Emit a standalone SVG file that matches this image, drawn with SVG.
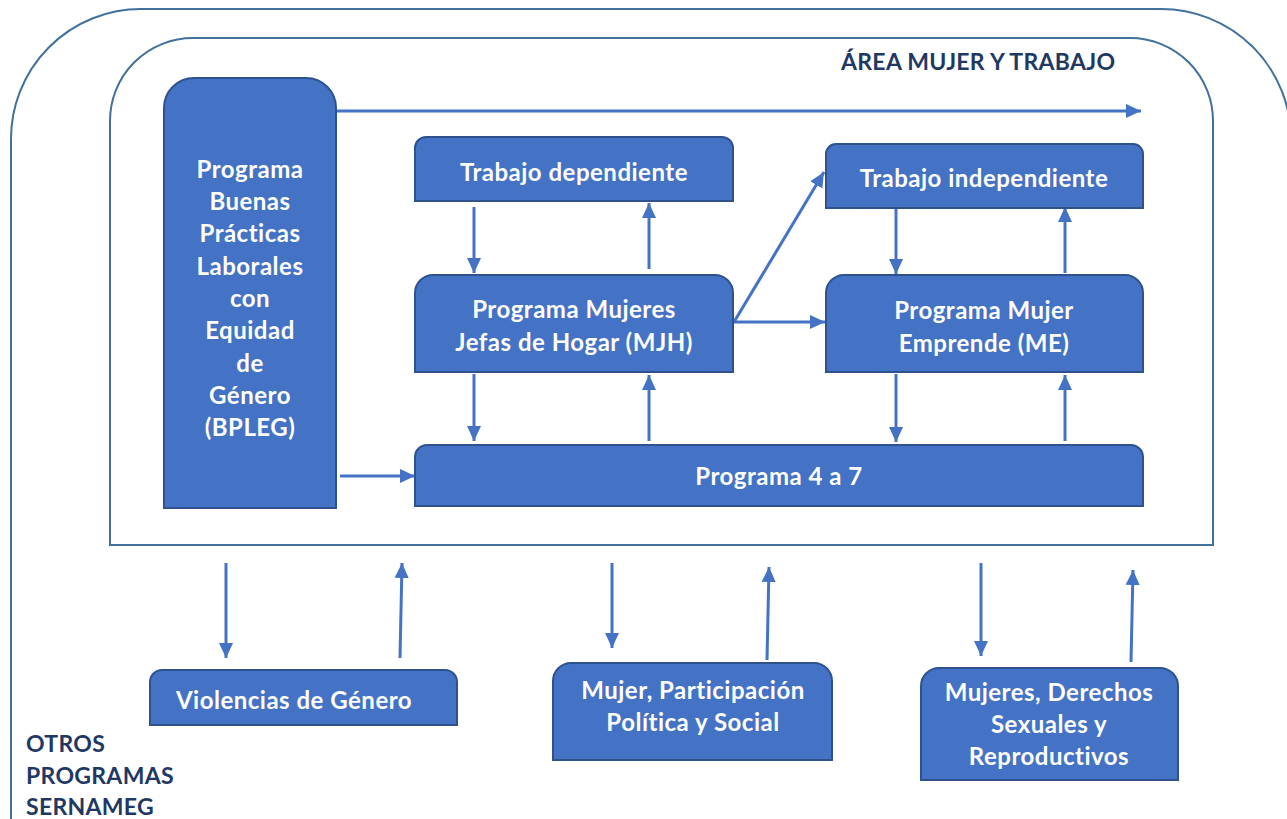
<svg xmlns="http://www.w3.org/2000/svg" width="1287" height="819" viewBox="0 0 1287 819">
<style>
.frame{fill:none;stroke:#41719C;stroke-width:2}
.node{fill:#4472C4;stroke:#2F528F;stroke-width:2}
.lbl{fill:#FFFFFF;font-family:Lato,"Liberation Sans",sans-serif;font-weight:bold;font-size:24px;letter-spacing:0.5px;text-anchor:middle}
.title{fill:#1F3864;font-family:Lato,"Liberation Sans",sans-serif;font-weight:bold;font-size:23px;letter-spacing:0.3px}
.arr{fill:none;stroke:#4472C4;stroke-width:3;marker-end:url(#ah)}
</style>
<defs>
<marker id="ah" viewBox="0 0 10 10" refX="10" refY="5" markerWidth="5" markerHeight="5" orient="auto" markerUnits="strokeWidth">
<path d="M0,0.3 L10,5 L0,9.7 Z" fill="#4472C4"/>
</marker>
</defs>
<rect width="1287" height="819" fill="#FFFFFF"/>
<g id="frame-otros">
<path class="frame" d="M11,822 V140 A130 130 0 0 1 141,9 H1161 A130 130 0 0 1 1291,139 V822"/>
<text class="title" x="26" y="752">OTROS</text>
<text class="title" x="26" y="784">PROGRAMAS</text>
<text class="title" x="26" y="815">SERNAMEG</text>
</g>
<g id="frame-area">
<path class="frame" d="M110,545 V121 A83 83 0 0 1 193,38 H1130 A83 83 0 0 1 1213,121 V545 Z"/>
<text class="title" x="841" y="70">ÁREA MUJER Y TRABAJO</text>
</g>
<g id="connectors">
<line class="arr" x1="336" y1="111" x2="1141" y2="111"/>
<line class="arr" x1="340" y1="476" x2="415" y2="476"/>
<line class="arr" x1="474" y1="207" x2="474" y2="273"/>
<line class="arr" x1="649" y1="269" x2="649" y2="203"/>
<line class="arr" x1="734" y1="322" x2="824" y2="172"/>
<line class="arr" x1="734" y1="322" x2="825" y2="322"/>
<line class="arr" x1="896" y1="208" x2="896" y2="274"/>
<line class="arr" x1="1065" y1="273" x2="1065" y2="207"/>
<line class="arr" x1="474" y1="374" x2="474" y2="441"/>
<line class="arr" x1="649" y1="441" x2="649" y2="375"/>
<line class="arr" x1="896" y1="374" x2="896" y2="442"/>
<line class="arr" x1="1065" y1="441" x2="1065" y2="375"/>
<line class="arr" x1="226" y1="563" x2="226" y2="658"/>
<line class="arr" x1="400" y1="658" x2="402" y2="563"/>
<line class="arr" x1="612" y1="563" x2="612" y2="648"/>
<line class="arr" x1="767" y1="660" x2="769" y2="567"/>
<line class="arr" x1="981" y1="563" x2="981" y2="656"/>
<line class="arr" x1="1131" y1="662" x2="1133" y2="570"/>
</g>
<g id="bpleg">
<path class="node" d="M164,508 V108 A30 30 0 0 1 194,78 H306 A30 30 0 0 1 336,108 V508 Z"/>
<text class="lbl" x="250" y="178">Programa</text>
<text class="lbl" x="250" y="210">Buenas</text>
<text class="lbl" x="250" y="242">Prácticas</text>
<text class="lbl" x="250" y="275">Laborales</text>
<text class="lbl" x="250" y="307">con</text>
<text class="lbl" x="250" y="339">Equidad</text>
<text class="lbl" x="250" y="372">de</text>
<text class="lbl" x="250" y="404">Género</text>
<text class="lbl" x="250" y="436">(BPLEG)</text>
</g>
<g id="trabajo-dependiente">
<path class="node" d="M415,201 V148 A11 11 0 0 1 426,137 H722 A11 11 0 0 1 733,148 V201 Z"/>
<text class="lbl" x="574" y="181">Trabajo dependiente</text>
</g>
<g id="mjh">
<path class="node" d="M415,372 V293 A18 18 0 0 1 433,275 H715 A18 18 0 0 1 733,293 V372 Z"/>
<text class="lbl" x="574" y="318">Programa Mujeres</text>
<text class="lbl" x="574" y="351">Jefas de Hogar (MJH)</text>
</g>
<g id="trabajo-independiente">
<path class="node" d="M826,208 V154 A10 10 0 0 1 836,144 H1133 A10 10 0 0 1 1143,154 V208 Z"/>
<text class="lbl" x="984" y="187">Trabajo independiente</text>
</g>
<g id="me">
<path class="node" d="M826,372 V293 A18 18 0 0 1 844,275 H1125 A18 18 0 0 1 1143,293 V372 Z"/>
<text class="lbl" x="984" y="319">Programa Mujer</text>
<text class="lbl" x="984" y="352">Emprende (ME)</text>
</g>
<g id="p4a7">
<path class="node" d="M415,506 V457 A12 12 0 0 1 427,445 H1131 A12 12 0 0 1 1143,457 V506 Z"/>
<text class="lbl" x="779" y="485">Programa 4 a 7</text>
</g>
<g id="violencias">
<path class="node" d="M150,725 V682 A12 12 0 0 1 162,670 H445 A12 12 0 0 1 457,682 V725 Z"/>
<text class="lbl" x="294" y="709">Violencias de Género</text>
</g>
<g id="participacion">
<path class="node" d="M553,760 V681 A18 18 0 0 1 571,663 H814 A18 18 0 0 1 832,681 V760 Z"/>
<text class="lbl" x="693" y="699">Mujer, Participación</text>
<text class="lbl" x="693" y="731">Política y Social</text>
</g>
<g id="derechos">
<path class="node" d="M921,780 V686 A18 18 0 0 1 939,668 H1160 A18 18 0 0 1 1178,686 V780 Z"/>
<text class="lbl" x="1049" y="701">Mujeres, Derechos</text>
<text class="lbl" x="1049" y="733">Sexuales y</text>
<text class="lbl" x="1049" y="765">Reproductivos</text>
</g>
</svg>
